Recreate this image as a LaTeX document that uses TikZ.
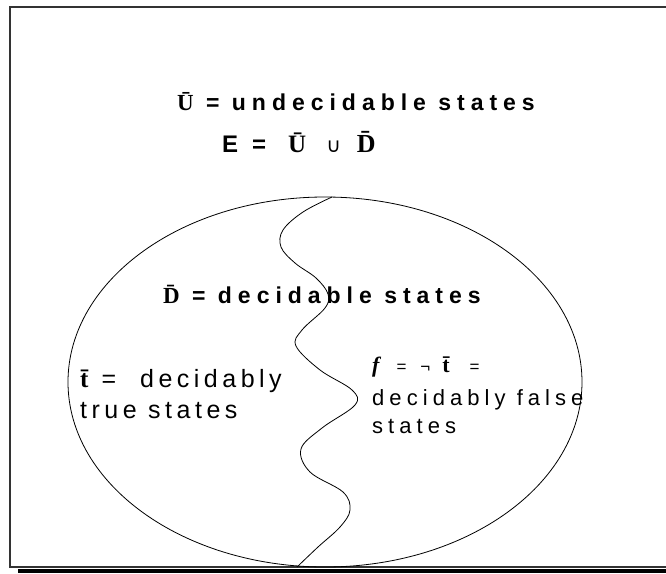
\documentclass[tikz,border=0pt]{standalone}
\usepackage{fontspec}
\setmainfont{Liberation Sans}
\newfontfamily\timesf{Liberation Serif}
\newfontfamily\dejaf{DejaVu Sans}
\newfontfamily\widef[LetterSpace=26]{Liberation Sans}
\newfontfamily\loosef[LetterSpace=18]{Liberation Sans}
\newfontfamily\smallf[LetterSpace=23]{Liberation Sans}
\newcommand\Ub{{\timesf\bfseries Ū}}
\newcommand\Db{{\timesf\bfseries D̄}}
\newcommand\tb{{\timesf\bfseries t̄}}
\begin{document}
\begin{tikzpicture}[x=1pt,y=-1pt,
  lbl/.style={inner sep=0pt,anchor=base west},
  head/.style={lbl,font=\widef\bfseries\fontsize{23}{27}\selectfont},
  side/.style={lbl,font=\loosef\fontsize{25}{30}\selectfont},
  sidesmall/.style={lbl,font=\smallf\fontsize{22}{26}\selectfont}]
\useasboundingbox (0,0) rectangle (666,573);
% frame and its shadow
\fill[black] (18,569) rectangle (666,573);
\draw[line width=1.8pt,black!80] (666,7) -- (10,7) -- (10,567) -- (666,567);
% the set E
\draw[line width=0.8pt] (325,382) ellipse [x radius=257,y radius=185];
\draw[line width=0.8pt] plot[smooth,tension=0.6] coordinates {(332,197) (303,212) (283,230) (281,247) (295,263) (316,278) (328,294) (325,308) (302,330) (296,346) (320,370) (352,390) (355,405) (322,428) (301,449) (310,472) (343,492) (350,510) (340,527) (318,547) (297,567)};
\node[head] (undec) at (177,110) {\Ub{} = undecidable states};
\node[lbl,font=\bfseries\fontsize{24}{28}\selectfont] (union) at (222,152)
  {E\hspace{14pt}=\hspace{22pt}{\timesf\fontsize{25}{28}\selectfont Ū}\hspace{20pt}{\dejaf\mdseries\fontsize{20}{22}\selectfont ∪}\hspace{16pt}{\timesf\fontsize{26}{28}\selectfont D̄}};
\node[head] (dec) at (163,303) {\Db{} = decidable states};
\node[side] (truea) at (80,387) {\tb\hspace{13pt}=\hspace{24pt}decidably};
\node[side] (trueb) at (80,418) {true states};
\node[sidesmall] (falsea) at (372,372) {{\timesf\bfseries\itshape f}\hspace{17pt}{\fontsize{17}{20}\selectfont=}\hspace{14pt}{\fontsize{17}{20}\selectfont ¬}\hspace{12pt}\tb\hspace{20pt}{\fontsize{17}{20}\selectfont=}};
\node[sidesmall] (falseb) at (372,405) {decidably false};
\node[sidesmall] (falsec) at (372,433) {states};
\end{tikzpicture}
\end{document}
